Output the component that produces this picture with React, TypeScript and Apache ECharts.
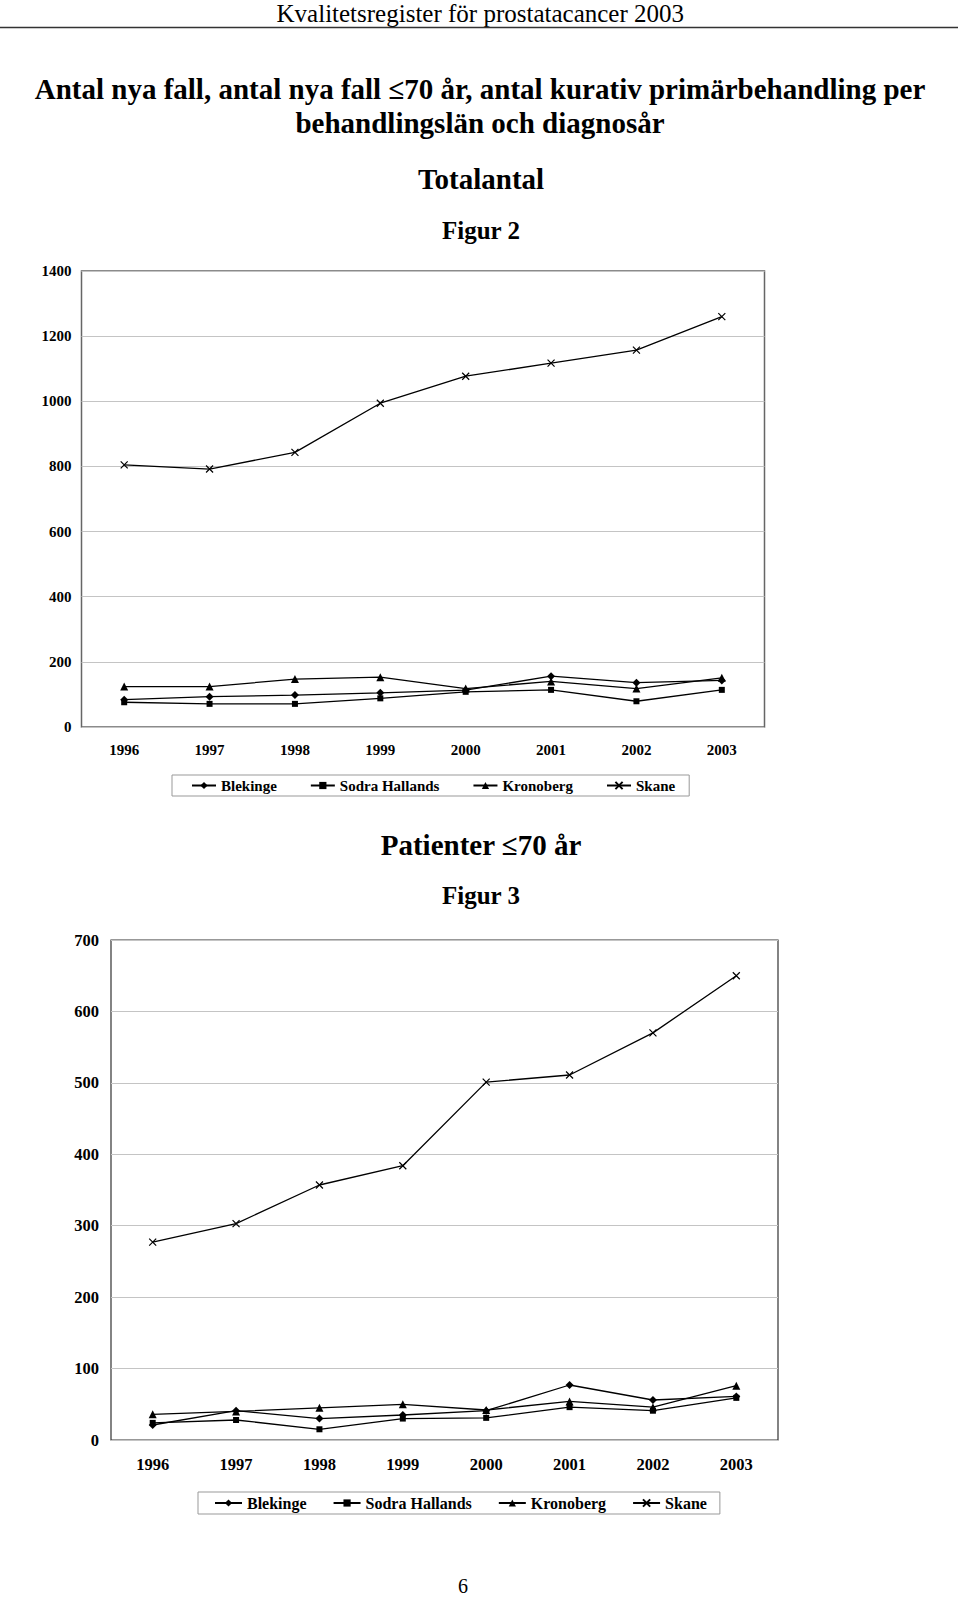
import React, { useEffect, useRef } from "react";
import * as echarts from "echarts";

const years = ["1996", "1997", "1998", "1999", "2000", "2001", "2002", "2003"];
const seriesNames = ["Blekinge", "Sodra Hallands", "Kronoberg", "Skane"];

// Figur 2 – Totalantal
const totBlekinge = [84, 93, 98, 105, 113, 156, 136, 143];
const totSodra = [76, 71, 71, 88, 108, 114, 79, 114];
const totKronoberg = [124, 124, 147, 153, 118, 140, 118, 151];
const totSkane = [805, 792, 843, 994, 1077, 1117, 1157, 1260];

// Figur 3 – Patienter <=70 år
const p70Blekinge = [21, 41, 30, 35, 41, 77, 56, 61];
const p70Sodra = [24, 28, 15, 30, 31, 46, 41, 59];
const p70Kronoberg = [36, 40, 45, 50, 42, 54, 46, 76];
const p70Skane = [277, 303, 357, 384, 501, 511, 570, 650];

const SERIF = "'Liberation Serif', 'Times New Roman', serif";
const xPath = "path://M0,0L10,10M10,0L0,10";
const symbols = ["diamond", "rect", "triangle", xPath];
const symbolSizes = [8, 6, 8, 7];

function makeSeries(data: number[][], axis: number) {
  return data.map((d, i) => ({
    name: seriesNames[i],
    type: "line",
    xAxisIndex: axis,
    yAxisIndex: axis,
    data: d,
    symbol: symbols[i],
    symbolSize: symbolSizes[i],
    showSymbol: true,
    lineStyle: { color: "#000", width: 1.3 },
    itemStyle: { color: "#000", borderColor: "#000", borderWidth: i === 3 ? 1.2 : 0 },
    emphasis: { disabled: true },
  }));
}

export default function App() {
  const ref = useRef<HTMLDivElement>(null);
  useEffect(() => {
    if (!ref.current) return;
    const chart = echarts.init(ref.current, undefined, { renderer: "svg" });
    const axisLabel = (size: number, margin: number) => ({
      fontFamily: SERIF,
      fontWeight: "bold",
      fontSize: size,
      color: "#000",
      margin,
      formatter: (v: any) => String(v),
    });
    const legendBase = (size: number) => ({
      data: seriesNames,
      orient: "horizontal",
      borderColor: "#999",
      borderWidth: 1,
      textStyle: { fontFamily: SERIF, fontWeight: "bold", fontSize: size, color: "#000" },
      selectedMode: false,
    });
    const option: any = {
      animation: false,
      backgroundColor: "#fff",
      grid: [
        { left: 81.5, top: 271, width: 683, height: 456, show: true, borderColor: "#666", borderWidth: 1.5, backgroundColor: "transparent" },
        { left: 111, top: 940, width: 667, height: 500, show: true, borderColor: "#333", borderWidth: 1.2, backgroundColor: "transparent" },
      ],
      xAxis: [
        { type: "category", gridIndex: 0, data: years, boundaryGap: true, axisLine: { show: false }, axisTick: { show: false }, axisLabel: axisLabel(15, 15) },
        { type: "category", gridIndex: 1, data: years, boundaryGap: true, axisLine: { show: false }, axisTick: { show: false }, axisLabel: axisLabel(16.5, 16) },
      ],
      yAxis: [
        { type: "value", gridIndex: 0, min: 0, max: 1400, interval: 200, axisLine: { show: false }, axisTick: { show: false }, splitLine: { lineStyle: { color: "#c4c4c4", width: 1 } }, axisLabel: axisLabel(15, 10) },
        { type: "value", gridIndex: 1, min: 0, max: 700, interval: 100, axisLine: { show: false }, axisTick: { show: false }, splitLine: { lineStyle: { color: "#c4c4c4", width: 1 } }, axisLabel: axisLabel(16.5, 12) },
      ],
      legend: [
        { ...legendBase(15), left: 172, top: 775, padding: [3, 14, 3, 19], itemGap: 33, itemWidth: 24, itemHeight: 9 },
        { ...legendBase(16), left: 198, top: 1492, padding: [3, 13, 3, 16], itemGap: 26, itemWidth: 27, itemHeight: 9 },
      ],
      series: [
        ...makeSeries([totBlekinge, totSodra, totKronoberg, totSkane], 0),
        ...makeSeries([p70Blekinge, p70Sodra, p70Kronoberg, p70Skane], 1),
      ],
      graphic: [
        { type: "text", right: 276, top: 1, style: { text: "Kvalitetsregister för prostatacancer 2003", font: `25px ${SERIF}`, fill: "#000" } },
        { type: "line", shape: { x1: 0, y1: 27.5, x2: 958, y2: 27.5 }, style: { stroke: "#333", lineWidth: 1.5 } },
        { type: "text", x: 480, y: 89, style: { text: "Antal nya fall, antal nya fall ≤70 år, antal kurativ primärbehandling per", font: `bold 29px ${SERIF}`, fill: "#000", align: "center", verticalAlign: "middle" } },
        { type: "text", x: 480, y: 123, style: { text: "behandlingslän och diagnosår", font: `bold 29px ${SERIF}`, fill: "#000", align: "center", verticalAlign: "middle" } },
        { type: "text", x: 481, y: 179, style: { text: "Totalantal", font: `bold 29px ${SERIF}`, fill: "#000", align: "center", verticalAlign: "middle" } },
        { type: "text", x: 481, y: 230, style: { text: "Figur 2", font: `bold 25px ${SERIF}`, fill: "#000", align: "center", verticalAlign: "middle" } },
        { type: "text", x: 481, y: 845, style: { text: "Patienter ≤70 år", font: `bold 29px ${SERIF}`, fill: "#000", align: "center", verticalAlign: "middle" } },
        { type: "text", x: 481, y: 895, style: { text: "Figur 3", font: `bold 25px ${SERIF}`, fill: "#000", align: "center", verticalAlign: "middle" } },
        { type: "text", x: 463, y: 1586, style: { text: "6", font: `20px ${SERIF}`, fill: "#000", align: "center", verticalAlign: "middle" } },
      ],
    };
    chart.setOption(option);
    return () => chart.dispose();
  }, []);
  return <div ref={ref} style={{ position: "absolute", left: 0, top: 0, width: 960, height: 1597 }} />;
}
